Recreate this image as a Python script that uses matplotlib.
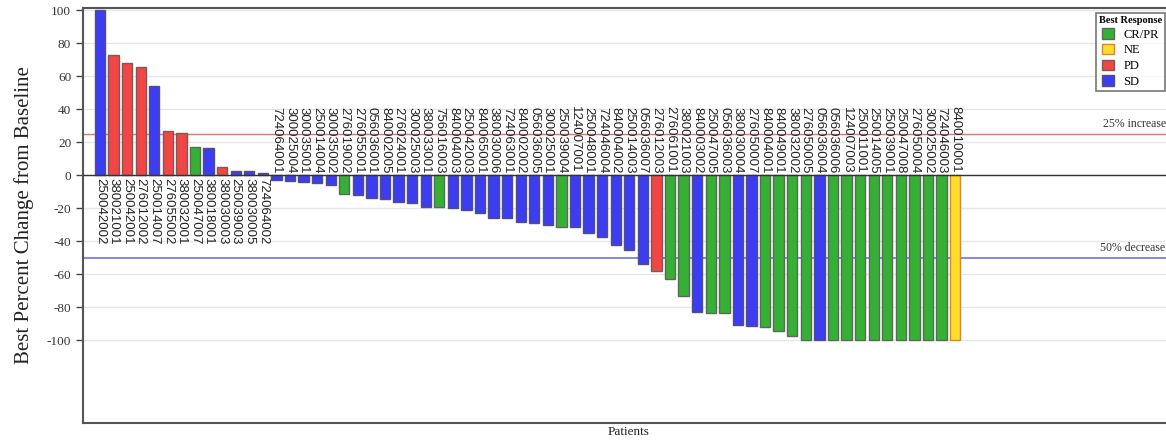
import matplotlib.pyplot as plt
from matplotlib.patches import Patch

plt.rcParams["axes.unicode_minus"] = False

# --- dati ---
patients = [
    "250042002", "380021001", "250042001", "276012002", "250014007", "276055002",
    "380032001", "250047007", "380018001", "380030003", "250039003", "380030005",
    "724064002", "724064001", "300025004", "300035001", "250014004", "300035002",
    "276019002", "276055001", "056036001", "840002005", "276024001", "300025003",
    "380033001", "756016003", "840004003", "250042003", "840065001", "380030006",
    "724063001", "840002002", "056036005", "300025001", "250039004", "124007001",
    "250048001", "724046004", "840004002", "250014003", "056036007", "276012003",
    "276061001", "380021003", "840003002", "250047005", "056036003", "380030004",
    "276050007", "840004001", "840049001", "380032002", "276050005", "056036004",
    "056036006", "124007003", "250011001", "250014005", "250039001", "250047008",
    "276050004", "300025002", "724046003", "840010001",
]
change = [
    100, 73, 68, 65.5, 54.5, 27, 25.5, 17.4, 16.8, 5, 2.8, 2.8,
    1.6, -2.6, -3.6, -4, -4.6, -5.7, -11, -12, -13.7, -14, -15.8, -16.8,
    -18.8, -18.8, -20, -20.8, -23, -26, -26, -28, -29, -30, -31, -31,
    -35, -37, -42, -45, -53.5, -58, -63, -73, -83, -83.5, -83.5, -90.5,
    -91.5, -92, -94.5, -97.5, -99.6, -100, -100, -100, -100, -100, -100, -100,
    -100, -100, -100, -100,
]
response = [
    "SD", "PD", "PD", "PD", "SD", "PD", "PD", "CR/PR", "SD", "PD", "SD", "SD",
    "SD", "SD", "SD", "SD", "SD", "SD", "CR/PR", "SD", "SD", "SD", "SD", "SD",
    "SD", "CR/PR", "SD", "SD", "SD", "SD", "SD", "SD", "SD", "SD", "CR/PR", "SD",
    "SD", "SD", "SD", "SD", "SD", "PD", "CR/PR", "CR/PR", "SD", "CR/PR", "CR/PR", "SD",
    "SD", "CR/PR", "CR/PR", "CR/PR", "CR/PR", "SD", "CR/PR", "CR/PR", "CR/PR", "CR/PR",
    "CR/PR", "CR/PR", "CR/PR", "CR/PR", "CR/PR", "NE",
]
categories = ["CR/PR", "NE", "PD", "SD"]

colori = {"CR/PR": "#35b035", "NE": "#ffdc2e", "PD": "#f24646", "SD": "#3c3cf2"}
bordi = {"CR/PR": "#5a6a5a", "NE": "#d88a20", "PD": "#7a5a5a", "SD": "#50507a"}

fig = plt.figure(figsize=(11.66, 4.45), dpi=100)
ax = fig.add_axes([83 / 1166, 22 / 445, (1175 - 83) / 1166, 415 / 445])

x = list(range(len(patients)))
ax.bar(x, change, width=0.76,
       color=[colori[r] for r in response],
       edgecolor=[bordi[r] for r in response], linewidth=1.0, zorder=3)

# etichette dei pazienti: sotto lo zero per le barre positive, sopra per le negative
for xi, (p, v) in enumerate(zip(patients, change)):
    if v >= 0:
        ax.text(xi, -1.5, p, rotation=270, ha="center", va="top",
                fontsize=9.5, family="Liberation Sans", color="#222222", zorder=4)
    else:
        ax.text(xi, 1.5, p, rotation=270, ha="center", va="bottom",
                fontsize=9.5, family="Liberation Sans", color="#222222", zorder=4)

# linee di riferimento
ax.axhline(0, color="#333333", lw=1.0, zorder=4)
ax.axhline(25, color="#f07070", lw=1.0, zorder=2)
ax.axhline(-50, color="#7070f0", lw=1.2, zorder=2)
ax.text(73.9, 27.5, "25% increase", fontsize=8.5, family="Liberation Serif",
        color="#333333", va="bottom", ha="left")
ax.text(73.7, -47.5, "50% decrease", fontsize=8.5, family="Liberation Serif",
        color="#333333", va="bottom", ha="left")

ax.set_xlim(-1.25, 79.2)
ax.set_ylim(-150, 101.5)
ax.set_yticks(range(-100, 101, 20))
ax.yaxis.grid(True, color="#e6e6e6", lw=1.0, zorder=0)
ax.set_xticks([])
ax.tick_params(axis="y", direction="out", length=5, width=1, color="#444444",
               labelsize=9.5, labelcolor="#333333")
for lab in ax.get_yticklabels():
    lab.set_family("Liberation Serif")
for s in ax.spines.values():
    s.set_color("#555555")
    s.set_linewidth(1.5)

ax.set_ylabel("Best Percent Change from Baseline", fontsize=15,
              family="Liberation Serif", color="#222222", labelpad=9)
ax.set_xlabel("Patients", fontsize=9.5, family="Liberation Serif",
              color="#222222", labelpad=2)

handles = [Patch(facecolor=colori[c], edgecolor=bordi[c], label=c) for c in categories]
leg = fig.legend(handles=handles, title="Best Response", loc="upper left",
                 bbox_to_anchor=(1096 / 1166, 1 - 13 / 445),
                 prop={"family": "Liberation Serif", "size": 9},
                 title_fontproperties={"family": "Liberation Serif", "size": 7.5, "weight": "bold"},
                 frameon=True, fancybox=False, edgecolor="#555555",
                 handlelength=0.9, handleheight=0.9, handletextpad=0.8,
                 labelspacing=0.25, borderpad=0.25, borderaxespad=0)
leg.get_frame().set_linewidth(1.2)

fig.savefig("out.png", dpi=100)
